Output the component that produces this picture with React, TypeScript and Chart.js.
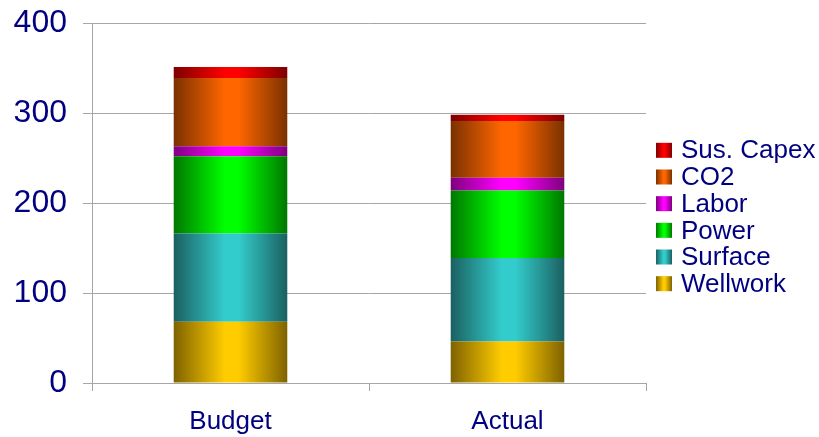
import React, { useEffect, useRef } from "react";
import { Chart, registerables } from "chart.js";

Chart.register(...registerables);

const categories = ["Budget", "Actual"];
const seriesNames = ["Wellwork", "Surface", "Power", "Labor", "CO2", "Sus. Capex"];
const wellwork = [68, 46];
const surface = [98, 93];
const power = [86, 75];
const labor = [11, 14];
const co2 = [76, 63];
const susCapex = [12, 7];
const yTicks = [0, 100, 200, 300, 400];

const seriesValues = [wellwork, surface, power, labor, co2, susCapex];
const lightColors = ["#FFCC00", "#33CCCC", "#00FF00", "#FF00FF", "#FF6600", "#FF0000"];
const darkColors = ["#7F6200", "#1B6060", "#007800", "#7E007E", "#7A3100", "#7E0000"];

const BAR_PCT = 0.41;
const NAVY = "#000080";
const GRID = "#a6a6a6";
const FONT = "'Liberation Sans', Arial, sans-serif";

function addStops(g: CanvasGradient, dark: string, light: string) {
  g.addColorStop(0, dark);
  g.addColorStop(0.45, light);
  g.addColorStop(0.57, light);
  g.addColorStop(1, dark);
  return g;
}

function barGradient(c: any, dark: string, light: string) {
  const chart = c.chart;
  const xs = chart.scales && chart.scales.x;
  if (!xs || c.type !== "data" || !isFinite(xs.left)) return light;
  const cw = (xs.right - xs.left) / categories.length;
  const bw = cw * BAR_PCT;
  const cx = xs.getPixelForValue(c.dataIndex);
  const g = chart.ctx.createLinearGradient(cx - bw / 2, 0, cx + bw / 2, 0);
  return addStops(g, dark, light);
}

const sideLegend = {
  id: "sideLegend",
  afterDraw(chart: any) {
    const { ctx, chartArea } = chart;
    const ds = chart.data.datasets;
    const n = ds.length;
    const rowH = 26.67;
    const x0 = chartArea.right + 10;
    const midY = (chartArea.top + chartArea.bottom) / 2 + 14;
    const startY = midY - (rowH * (n - 1)) / 2;
    ctx.save();
    ctx.font = `26px ${FONT}`;
    ctx.textBaseline = "middle";
    ctx.textAlign = "left";
    for (let k = 0; k < n; k++) {
      const i = n - 1 - k;
      const y = startY + k * rowH;
      const g = ctx.createLinearGradient(x0, 0, x0 + 16, 0);
      addStops(g, darkColors[i], lightColors[i]);
      ctx.fillStyle = g;
      ctx.fillRect(x0, y - 7.5, 16, 15);
      ctx.fillStyle = NAVY;
      ctx.fillText(ds[i].label, x0 + 25, y + 1);
    }
    ctx.restore();
  },
};

export default function App() {
  const ref = useRef<HTMLCanvasElement>(null);
  useEffect(() => {
    if (!ref.current) return;
    Chart.defaults.font.family = FONT;
    const chart = new Chart(ref.current, {
      type: "bar",
      data: {
        labels: categories,
        datasets: seriesNames.map((name, i) => ({
          label: name,
          data: seriesValues[i],
          backgroundColor: (c: any) => barGradient(c, darkColors[i], lightColors[i]),
          borderWidth: 0,
          barPercentage: BAR_PCT,
          categoryPercentage: 1,
        })),
      },
      options: {
        responsive: false,
        animation: false,
        layout: { padding: { top: 23, right: 173, bottom: 0, left: 0 } },
        plugins: { legend: { display: false }, tooltip: { enabled: false } },
        scales: {
          x: {
            stacked: true,
            offset: true,
            grid: { display: true, drawOnChartArea: false, offset: true, tickLength: 8, color: GRID },
            border: { display: true, color: GRID },
            ticks: { color: NAVY, font: { size: 26, family: FONT }, padding: 15 },
            afterFit: (s: any) => {
              s.height = 54;
              s.paddingLeft = 0;
              s.paddingRight = 0;
            },
          },
          y: {
            stacked: true,
            min: 0,
            max: 400,
            afterBuildTicks: (s: any) => {
              s.ticks = yTicks.map((v) => ({ value: v }));
            },
            grid: { color: GRID, tickLength: 9 },
            border: { display: true, color: GRID },
            ticks: { color: NAVY, font: { size: 32, family: FONT }, padding: 16 },
            afterFit: (s: any) => {
              s.width = 92;
              s.paddingTop = 0;
              s.paddingBottom = 0;
            },
          },
        },
      },
      plugins: [sideLegend],
    });
    return () => chart.destroy();
  }, []);
  return (
    <div style={{ position: "fixed", left: 0, top: 0, width: 819, height: 437, background: "#fff" }}>
      <canvas ref={ref} width={819} height={437} style={{ display: "block" }} />
    </div>
  );
}
